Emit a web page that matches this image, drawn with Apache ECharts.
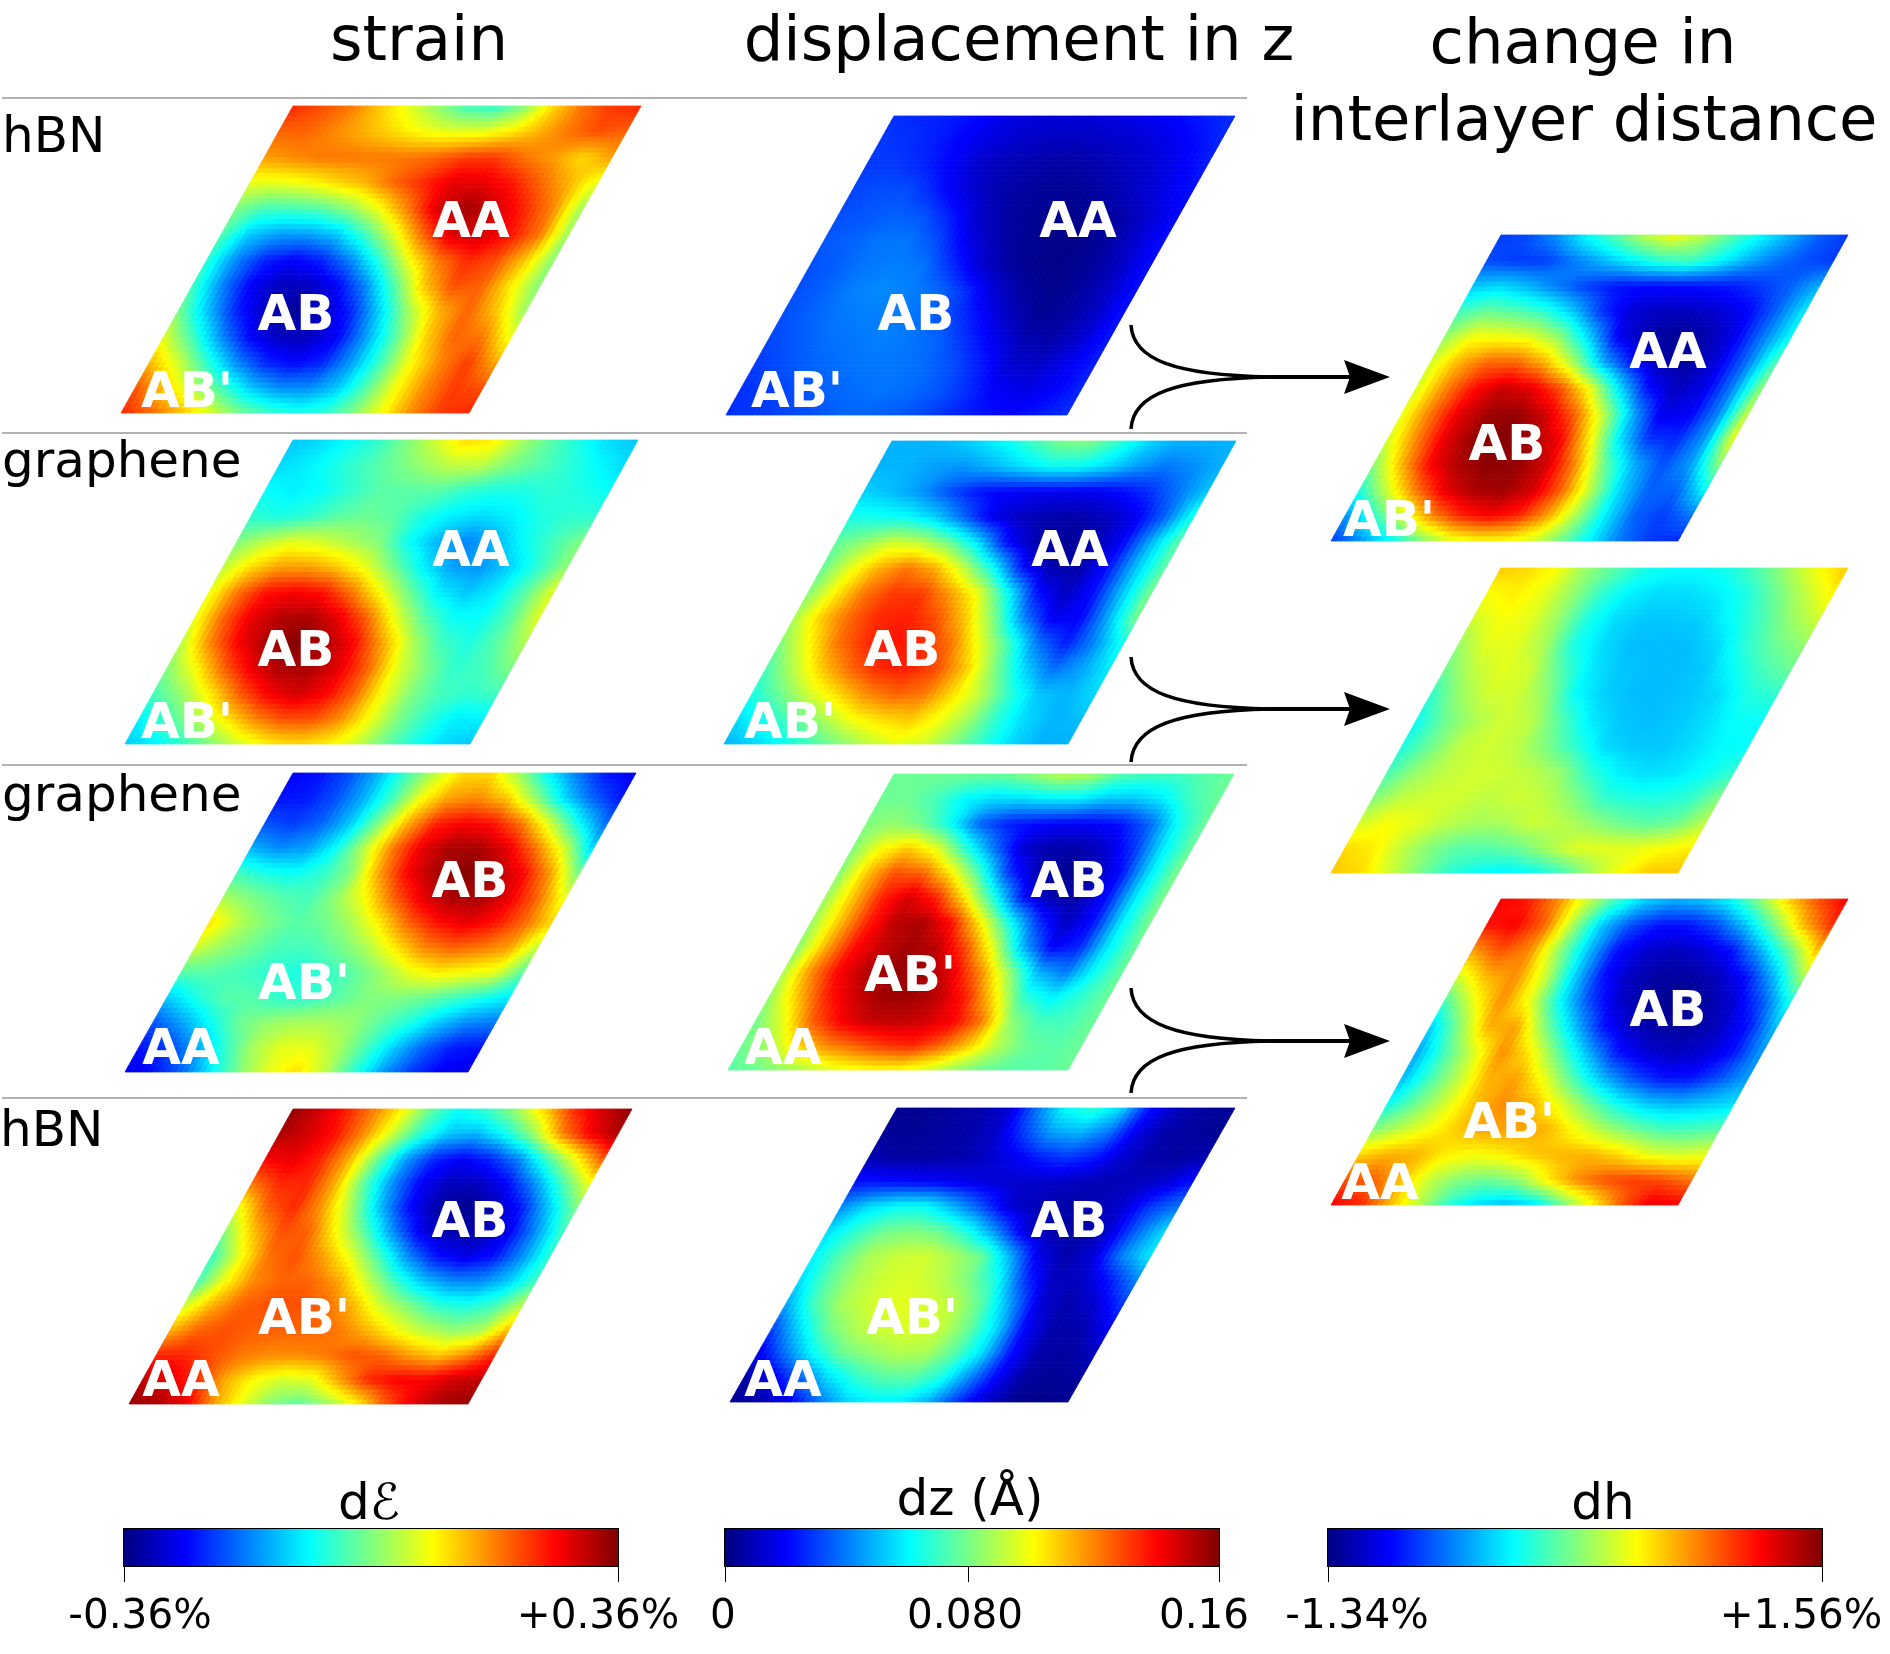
<!DOCTYPE html>
<html>
<head>
<meta charset="utf-8">
<style>
  html, body { margin: 0; padding: 0; background: #fff; }
  #main { width: 1890px; height: 1654px; }
</style>
<script src="https://cdn.jsdelivr.net/npm/echarts@6/dist/echarts.min.js"></script>
</head>
<body>
<div id="main"></div>
<script>
// each map: position along the colour bar (0-100),
// rows go from the top edge of the rhombus to the bottom edge, 13 nodes per row
var strainHbnTop = [
  [84,80,76,68,60,52,44,42,50,66,76,82,84],
  [78,78,74,70,66,62,60,60,64,70,76,80,78],
  [72,74,76,76,76,76,78,82,82,76,72,66,72],
  [60,60,62,66,70,78,84,90,90,86,78,70,60],
  [50,44,44,46,52,62,76,92,97,92,84,74,52],
  [46,32,28,28,32,44,60,78,92,92,86,76,52],
  [42,26,16,12,16,26,42,62,76,84,80,68,50],
  [44,26,12,6,6,12,26,46,68,80,78,64,50],
  [50,32,16,6,2,6,16,34,54,70,78,68,52],
  [60,44,26,12,6,6,12,28,46,66,78,76,60],
  [70,58,42,26,16,12,16,28,44,62,74,82,70],
  [80,68,56,44,32,26,26,32,46,62,74,82,80],
  [84,78,70,60,50,44,40,42,50,62,74,82,84]
];
var strainGrapheneTop = [
  [32,34,38,42,50,58,66,64,54,46,40,34,32],
  [34,36,40,44,48,52,56,56,50,46,42,38,34],
  [38,36,38,42,46,46,46,42,40,40,42,40,38],
  [42,40,42,46,48,46,40,36,34,36,40,42,42],
  [50,56,60,58,54,50,38,30,25,30,38,44,50],
  [56,66,72,72,68,60,48,36,28,27,33,42,52],
  [60,76,86,88,86,76,62,48,36,32,36,46,60],
  [60,78,90,95,96,90,78,60,46,38,38,46,60],
  [55,74,88,96,100,96,88,72,56,44,40,46,55],
  [50,62,78,90,96,96,90,78,60,50,42,44,50],
  [44,52,64,78,88,92,88,78,62,50,44,42,44],
  [36,44,54,64,74,80,80,74,62,50,42,36,36],
  [32,36,42,50,58,64,66,64,58,48,40,34,32]
];
var strainGrapheneBottom = [
  [12,14,20,30,44,56,66,66,52,36,24,14,12],
  [14,15,20,30,44,62,72,74,68,52,34,22,14],
  [20,18,22,32,50,70,84,88,86,76,58,38,22],
  [30,26,28,38,56,76,90,96,96,90,76,58,32],
  [44,40,38,42,50,72,88,96,100,96,88,72,48],
  [54,50,46,44,52,62,78,90,96,96,90,78,60],
  [66,56,50,46,48,54,64,78,86,90,86,78,66],
  [58,52,48,44,44,48,54,64,74,78,76,72,56],
  [46,46,44,42,40,42,46,52,60,64,62,60,46],
  [32,40,46,46,42,42,46,50,50,48,44,40,36],
  [20,28,38,48,52,54,54,52,46,40,32,26,24],
  [14,18,28,42,54,60,60,54,44,32,22,15,14],
  [10,14,22,36,50,60,66,56,42,28,18,12,10]
];
var strainHbnBottom = [
  [98,92,84,74,62,46,38,44,54,68,84,92,98],
  [96,92,86,74,58,42,32,30,38,52,74,88,96],
  [88,90,84,70,48,28,16,12,16,26,44,62,80],
  [76,84,84,70,46,26,12,6,6,12,26,44,62],
  [60,78,84,72,54,32,14,4,1,4,14,32,50],
  [50,68,80,78,62,46,26,10,4,4,10,26,44],
  [42,60,76,80,72,60,44,26,14,10,14,26,42],
  [44,62,74,78,78,72,58,44,32,26,26,32,44],
  [58,70,78,80,80,78,70,58,50,42,40,44,56],
  [70,78,80,78,78,78,76,70,62,56,52,54,70],
  [84,84,80,76,74,74,76,80,78,72,68,74,84],
  [94,90,82,70,62,58,60,72,84,88,88,92,94],
  [98,96,90,72,60,50,46,52,62,78,90,96,98]
];
var dzHbnTop = [
  [17,16,15,13,10,9,9,9,10,11,13,15,17],
  [18,17,15,12,9,7,6,6,7,8,10,13,16],
  [18,18,16,12,7,5,4,3,4,6,8,11,15],
  [19,20,20,15,9,5,3,2,2,4,7,10,14],
  [20,21,22,21,15,7,3,2,1,2,4,8,13],
  [21,22,24,24,20,11,5,2,1,1,3,8,14],
  [20,22,24,25,24,17,8,3,1,1,3,7,14],
  [20,22,25,26,25,23,17,8,3,1,3,7,14],
  [20,22,24,25,25,23,19,13,6,2,3,7,14],
  [19,21,23,24,25,24,22,17,11,5,4,8,15],
  [18,20,22,23,24,24,23,20,15,8,7,11,15],
  [17,18,20,22,23,24,23,21,17,12,10,12,16],
  [17,18,19,20,22,22,21,19,16,14,13,15,17]
];
var dzGrapheneTop = [
  [30,30,31,34,38,44,50,50,42,34,30,30,30],
  [30,30,28,27,30,34,38,38,34,28,24,26,30],
  [33,31,27,20,14,12,11,11,11,13,17,24,32],
  [40,39,38,33,22,10,6,4,4,6,11,22,40],
  [47,52,58,56,48,34,13,4,2,4,12,30,47],
  [47,60,70,76,70,56,38,14,4,4,14,32,47],
  [50,64,76,82,82,72,60,38,14,6,14,32,50],
  [54,68,78,84,85,80,68,50,26,11,12,30,50],
  [50,62,76,83,86,84,76,60,44,24,15,26,40],
  [44,56,68,78,84,85,80,68,50,34,23,28,36],
  [40,48,58,66,74,78,76,66,56,42,32,30,34],
  [34,40,46,54,62,66,68,62,54,42,34,30,31],
  [30,33,38,44,50,56,60,58,50,42,34,30,30]
];
var dzGrapheneBottom = [
  [48,48,48,48,48,52,56,54,46,44,44,46,48],
  [48,48,44,37,34,34,36,36,32,32,36,44,48],
  [50,52,48,38,22,15,13,12,12,14,22,38,48],
  [50,62,68,60,42,24,8,4,4,8,18,36,48],
  [50,68,80,78,64,44,18,5,1,4,14,35,50],
  [52,68,84,92,84,64,40,14,4,4,14,36,50],
  [52,68,84,94,96,86,64,40,18,6,14,36,50],
  [50,70,86,93,97,94,80,58,30,12,16,36,48],
  [54,74,88,95,98,97,90,74,52,30,24,38,48],
  [52,68,84,92,97,97,94,84,64,42,36,42,48],
  [48,60,78,88,93,94,92,88,76,52,44,44,48],
  [48,54,66,74,78,82,84,78,68,56,48,46,48],
  [46,48,52,56,60,62,62,58,52,48,46,46,48]
];
var dzHbnBottom = [
  [2,2,3,4,8,24,38,42,34,14,6,3,2],
  [2,2,3,4,7,18,28,30,24,10,4,3,2],
  [5,3,3,4,6,10,15,18,15,8,4,3,5],
  [14,14,13,12,10,8,7,7,6,5,6,8,14],
  [26,34,38,38,30,20,8,5,4,5,8,18,24],
  [34,42,48,50,48,40,26,9,4,3,8,22,34],
  [36,46,54,57,58,54,48,30,10,4,9,26,36],
  [34,46,54,58,59,56,50,40,18,6,6,14,26],
  [28,44,54,58,60,59,56,46,28,9,4,8,18],
  [18,34,48,55,58,59,57,48,34,12,4,4,12],
  [10,24,38,48,52,55,54,46,34,14,4,3,6],
  [3,10,22,34,42,46,46,40,26,12,3,2,3],
  [2,4,10,22,32,36,36,30,18,8,2,1,2]
];
var dhTop = [
  [18,20,27,38,46,56,62,56,46,38,30,22,18],
  [20,18,18,24,30,36,42,44,38,30,24,20,18],
  [32,34,30,24,18,14,13,13,14,15,18,22,30],
  [44,48,46,42,32,17,8,6,6,8,12,22,36],
  [52,62,62,60,52,34,12,4,2,4,10,24,38],
  [58,70,78,78,70,54,30,14,4,3,10,24,46],
  [58,74,86,93,90,80,62,36,14,6,10,26,52],
  [60,76,90,97,98,92,78,56,30,10,12,26,58],
  [58,74,90,98,100,97,88,64,36,18,16,28,62],
  [50,70,88,96,99,98,92,74,48,30,20,28,52],
  [40,58,76,90,96,97,92,78,56,34,22,22,38],
  [26,42,58,74,84,88,84,72,54,36,22,18,24],
  [18,26,36,48,58,62,62,58,48,36,24,18,16]
];
var dhMiddle = [
  [68,66,62,52,46,40,38,38,40,46,54,62,68],
  [62,64,60,52,42,36,34,34,36,40,48,56,64],
  [58,62,60,52,40,34,32,32,33,38,44,52,58],
  [52,60,60,54,40,34,31,31,31,34,42,48,52],
  [48,56,60,58,46,36,32,31,31,32,38,44,48],
  [42,52,58,58,52,38,33,31,31,32,34,40,42],
  [38,48,54,58,56,46,36,32,31,32,34,38,38],
  [40,48,56,58,56,50,42,34,32,32,34,37,38],
  [44,52,56,58,58,56,52,42,36,34,35,38,42],
  [50,56,58,58,56,58,56,50,42,40,40,42,50],
  [58,62,60,56,54,54,58,56,52,48,46,48,56],
  [66,64,56,50,46,46,48,54,60,60,60,62,64],
  [68,66,58,50,42,38,36,38,44,54,62,68,68]
];
var dhBottom = [
  [88,85,74,58,44,34,30,32,38,52,68,80,88],
  [86,88,78,54,32,20,14,14,20,32,50,70,84],
  [72,80,74,52,32,14,8,6,8,14,30,48,70],
  [58,70,74,58,34,14,6,3,3,6,14,32,56],
  [44,60,74,60,38,20,8,3,1,3,8,20,40],
  [32,50,70,72,50,32,14,6,3,3,6,14,32],
  [28,44,58,74,64,46,30,14,8,6,8,14,28],
  [30,44,56,70,72,60,44,30,20,14,14,20,28],
  [38,48,58,68,74,70,60,48,38,32,30,32,34],
  [50,56,62,68,72,72,70,62,54,48,44,44,46],
  [66,70,70,64,62,64,68,70,70,66,60,58,60],
  [80,78,68,56,50,48,52,64,74,80,82,80,76],
  [88,84,70,56,42,34,30,34,48,62,78,90,88]
];

var colorbarRanges = [[-0.36, 0.36], [0, 0.16], [-1.34, 1.56]];
// the middle tick of the dz bar sits a little left of the bar's centre in the picture
var colorbarTicks = [[-0.36, 0.36], [0, 0.0787, 0.16], [-1.34, 1.56]];
var colorbarTitles = ['d\u2130', 'dz (\u00c5)', 'dh'];
var colorbarTickLabels = [['-0.36%', '+0.36%'], ['0', '0.080', '0.16'], ['-1.34%', '+1.56%']];

var jetStops = ['#000080', '#0000ff', '#0080ff', '#00ffff', '#80ff80', '#ffff00', '#ff8000', '#ff0000', '#800000'];

var FONT = '"DejaVu Sans"';
var SUBDIV = 5;

// [map, bottom-left x, bottom-right x, top-left x, top y, bottom y]
var panels = [
  [strainHbnTop, 121, 469, 293, 106, 413],
  [strainGrapheneTop, 125, 470, 293, 440, 744],
  [strainGrapheneBottom, 125, 468, 293, 773, 1072],
  [strainHbnBottom, 129, 468, 293, 1109, 1404],
  [dzHbnTop, 726, 1067, 894, 116, 415],
  [dzGrapheneTop, 724, 1068, 892, 441, 744],
  [dzGrapheneBottom, 728, 1068, 894, 774, 1070],
  [dzHbnBottom, 730, 1068, 897, 1108, 1402],
  [dhTop, 1331, 1678, 1501, 235, 541],
  [dhMiddle, 1331, 1678, 1501, 568, 873],
  [dhBottom, 1331, 1678, 1501, 899, 1205]
];

var stackingLabels = [
  ["AB'", 187, 389], ['AB', 296, 312], ['AA', 471, 219],
  ["AB'", 187, 720], ['AB', 296, 648], ['AA', 471, 548],
  ['AA', 181, 1046], ["AB'", 304, 981], ['AB', 470, 879],
  ['AA', 181, 1378], ["AB'", 304, 1316], ['AB', 470, 1219],
  ["AB'", 797, 389], ['AB', 916, 312], ['AA', 1078, 219],
  ["AB'", 790, 720], ['AB', 902, 648], ['AA', 1070, 548],
  ['AA', 783, 1046], ["AB'", 910, 973], ['AB', 1069, 879],
  ['AA', 783, 1378], ["AB'", 912, 1316], ['AB', 1069, 1219],
  ["AB'", 1389, 518], ['AB', 1507, 442], ['AA', 1668, 350],
  ['AA', 1380, 1181], ["AB'", 1509, 1120], ['AB', 1668, 1008]
];

function hexToRgb(hex) {
  return [parseInt(hex.substr(1, 2), 16), parseInt(hex.substr(3, 2), 16), parseInt(hex.substr(5, 2), 16)];
}
var jetRgb = jetStops.map(hexToRgb);

function jetColor(v) {
  var t = Math.max(0, Math.min(1, v / 100)) * (jetRgb.length - 1);
  var i = Math.min(jetRgb.length - 2, Math.floor(t));
  var f = t - i;
  var a = jetRgb[i], b = jetRgb[i + 1];
  return 'rgb(' + Math.round(a[0] + (b[0] - a[0]) * f) + ',' +
    Math.round(a[1] + (b[1] - a[1]) * f) + ',' +
    Math.round(a[2] + (b[2] - a[2]) * f) + ')';
}

// one item per mesh cell: the read node values, the colour is shaded across the cell when drawn
function cellData(map) {
  var out = [];
  for (var r = 0; r < 12; r++) {
    for (var c = 0; c < 12; c++) {
      out.push([c, r, map[12 - r][c], map[12 - r][c + 1], map[11 - r][c], map[11 - r][c + 1]]);
    }
  }
  return out;
}

function meshRenderer(shear) {
  return function (params, api) {
    var c = api.value(0), r = api.value(1);
    var v00 = api.value(2), v10 = api.value(3), v01 = api.value(4), v11 = api.value(5);
    function pt(u, v) {
      return api.coord([c + u + (r + v) * shear, r + v]);
    }
    var children = [];
    for (var i = 0; i < SUBDIV; i++) {
      for (var j = 0; j < SUBDIV; j++) {
        var u0 = i / SUBDIV, u1 = (i + 1) / SUBDIV, v0 = j / SUBDIV, v1 = (j + 1) / SUBDIV;
        var um = (u0 + u1) / 2, vm = (v0 + v1) / 2;
        var val = v00 * (1 - um) * (1 - vm) + v10 * um * (1 - vm) + v01 * (1 - um) * vm + v11 * um * vm;
        var col = jetColor(val);
        children.push({
          type: 'polygon',
          shape: { points: [pt(u0, v0), pt(u1, v0), pt(u1, v1), pt(u0, v1)] },
          style: { fill: col, stroke: col, lineWidth: 0.8 },
          silent: true
        });
      }
    }
    return { type: 'group', children: children };
  };
}

var grids = [], xAxes = [], yAxes = [], series = [];

panels.forEach(function (p, idx) {
  var w = p[2] - p[1], s = p[3] - p[1], h = p[5] - p[4];
  var shear = s / w;
  grids.push({ left: p[1], top: p[4], width: w + s, height: h, show: false });
  xAxes.push({ type: 'value', gridIndex: idx, min: 0, max: 12 * (1 + shear), show: false });
  yAxes.push({ type: 'value', gridIndex: idx, min: 0, max: 12, show: false });
  series.push({
    type: 'custom',
    xAxisIndex: idx,
    yAxisIndex: idx,
    silent: true,
    clip: false,
    renderItem: meshRenderer(shear),
    data: cellData(p[0])
  });
});

// colour bars
var barLefts = [124, 725, 1328];
colorbarRanges.forEach(function (range, b) {
  var idx = grids.length;
  grids.push({ left: barLefts[b], top: 1529, width: 494, height: 37, show: true, borderColor: '#000', borderWidth: 2 });
  xAxes.push({
    type: 'value', gridIndex: idx, min: range[0], max: range[1], position: 'bottom',
    axisLine: { show: false },
    axisTick: { show: true, length: 16, inside: false, customValues: colorbarTicks[b], lineStyle: { color: '#000', width: 1 } },
    axisLabel: { show: false },
    splitLine: { show: false }
  });
  yAxes.push({ type: 'value', gridIndex: idx, min: 0, max: 1, show: false });
  series.push({
    type: 'custom',
    xAxisIndex: idx,
    yAxisIndex: idx,
    silent: true,
    z: 1,
    renderItem: function (params, api) {
      var a = api.coord([api.value(0), 1]);
      var z = api.coord([api.value(1), 0]);
      return {
        type: 'rect',
        shape: { x: a[0], y: a[1], width: z[0] - a[0], height: z[1] - a[1] },
        style: {
          fill: {
            type: 'linear', x: 0, y: 0, x2: 1, y2: 0,
            colorStops: jetStops.map(function (col, i) {
              return { offset: i / (jetStops.length - 1), color: col };
            })
          }
        }
      };
    },
    data: [[range[0], range[1]]]
  });
});

function txt(str, x, y, size, opts) {
  opts = opts || {};
  return {
    type: 'text', x: x, y: y, silent: true, z: 20,
    style: {
      text: str,
      fill: opts.fill || '#000',
      font: (opts.bold ? 'bold ' : '') + size + 'px ' + FONT,
      textAlign: opts.align || 'center',
      textVerticalAlign: 'middle'
    }
  };
}

var graphics = [];

[98, 433, 765, 1098].forEach(function (y) {
  graphics.push({
    type: 'line', silent: true, z: 5,
    shape: { x1: 2, y1: y, x2: 1247, y2: y },
    style: { stroke: '#999', lineWidth: 1.5 }
  });
});

graphics.push(txt('strain', 419, 44, 62.5));
graphics.push(txt('displacement in z', 1019, 44, 62.5));
graphics.push(txt('change in', 1583, 47, 62.5));
graphics.push(txt('interlayer distance', 1584, 124, 62.5));

graphics.push(txt('hBN', 2, 139, 50, { align: 'left' }));
graphics.push(txt('graphene', 2, 464, 50, { align: 'left' }));
graphics.push(txt('graphene', 2, 798, 50, { align: 'left' }));
graphics.push(txt('hBN', 0, 1133, 50, { align: 'left' }));

stackingLabels.forEach(function (l) {
  graphics.push(txt(l[0], l[1], l[2] + 5, 50, { fill: '#fff', bold: true }));
});

[369, 970, 1603].forEach(function (x, i) {
  graphics.push(txt(colorbarTitles[i], x, i === 1 ? 1502 : 1506, 50));
});

var tickLabelX = [[140, 598], [723, 965, 1204], [1357, 1801]];
colorbarTickLabels.forEach(function (labels, b) {
  labels.forEach(function (str, i) {
    graphics.push(txt(str, tickLabelX[b][i], 1617, 40.5));
  });
});

// curved arrows from the two maps to the interlayer map
[[325, 377, 429], [657, 709, 762], [988, 1041, 1093]].forEach(function (a) {
  var top = a[0], mid = a[1], bot = a[2];
  graphics.push({
    type: 'bezierCurve', silent: true, z: 6,
    shape: { x1: 1131, y1: top, cpx1: 1133, cpy1: top + 35, cpx2: 1175, cpy2: mid - 2, x2: 1270, y2: mid },
    style: { stroke: '#000', lineWidth: 3.5, fill: 'none' }
  });
  graphics.push({
    type: 'bezierCurve', silent: true, z: 6,
    shape: { x1: 1131, y1: bot, cpx1: 1133, cpy1: bot - 35, cpx2: 1175, cpy2: mid + 2, x2: 1270, y2: mid },
    style: { stroke: '#000', lineWidth: 3.5, fill: 'none' }
  });
  graphics.push({
    type: 'line', silent: true, z: 6,
    shape: { x1: 1268, y1: mid, x2: 1352, y2: mid },
    style: { stroke: '#000', lineWidth: 4 }
  });
  graphics.push({
    type: 'polygon', silent: true, z: 7,
    shape: { points: [[1390, mid], [1344, mid - 17], [1350, mid], [1344, mid + 17]] },
    style: { fill: '#000' }
  });
});

var mainChart = echarts.init(document.getElementById('main'), null, { renderer: 'canvas' });
mainChart.setOption({
  animation: false,
  backgroundColor: '#fff',
  grid: grids,
  xAxis: xAxes,
  yAxis: yAxes,
  series: series,
  graphic: { elements: graphics }
});
</script>
</body>
</html>
